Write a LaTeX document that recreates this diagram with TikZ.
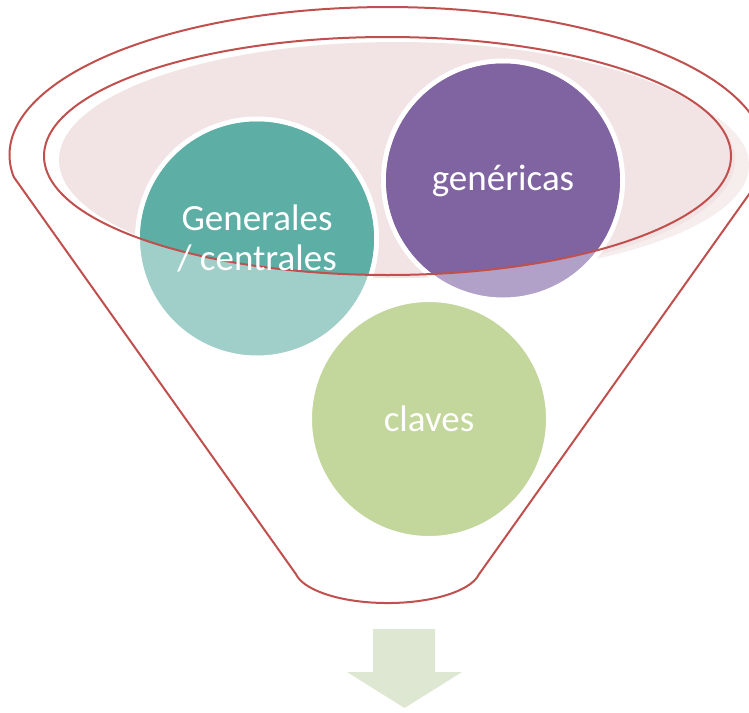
\documentclass[tikz,border=0pt]{standalone}
\usepackage{fontspec}
\setmainfont{Carlito}
\definecolor{rimred}{HTML}{C0504D}
\definecolor{pinkA}{HTML}{F2E4E4}
\definecolor{pinkB}{HTML}{F6EDED}
\definecolor{tealD}{HTML}{5DAEA5}
\definecolor{tealL}{HTML}{A0CFC9}
\definecolor{purpD}{HTML}{8064A2}
\definecolor{purpL}{HTML}{B1A1C8}
\definecolor{greenL}{HTML}{C3D69B}
\definecolor{arrowc}{HTML}{DDE7D1}

\begin{document}
\begin{tikzpicture}[x=1pt,y=-1pt,
  rim/.style={draw=rimred,line width=2pt},
  ball/.style={circle,minimum size=234pt,inner sep=0pt,text=white,align=center,
    font=\fontsize{37}{40}\selectfont}]
 \useasboundingbox (0,0) rectangle (749,712);
 \coordinate (c1) at (257,238.5);
 \coordinate (c2) at (503,180.5);
 \coordinate (c3) at (429,419);
 % liquid in the funnel
 \fill[pinkB] (412,165) ellipse[x radius=337,y radius=112];
 \fill[pinkA] (397,160) ellipse[x radius=338,y radius=118];
 % balls
 \foreach \c/\col in {c1/tealL,c2/purpL,c3/greenL}
   \filldraw[fill=\col,draw=white,line width=5pt] (\c) circle (119.5);
 \begin{scope}
  \clip (387.5,156) ellipse[x radius=343.5,y radius=119];
  \fill[tealD] (c1) circle (117);
  \fill[purpD] (c2) circle (117);
 \end{scope}
 % funnel
 \draw[rim] (387.5,156) ellipse[x radius=343.5,y radius=119];
 \draw[rim] (13.7,176.9) arc[start angle=171.5,end angle=368.5,x radius=378,y radius=148]
   -- (479.1,574.1) arc[start angle=10,end angle=170,x radius=93,y radius=35] -- cycle;
 %
 \node[ball] (gen) at (c1) {Generales\\/ centrales};
 \node[ball] (generic) at (c2) {genéricas};
 \node[ball] (key) at (c3) {claves};
 \fill[arrowc] (373,629) -- (435,629) -- (435,672) -- (462,672) -- (404.5,708)
   -- (347,672) -- (373,672) -- cycle;
\end{tikzpicture}
\end{document}
